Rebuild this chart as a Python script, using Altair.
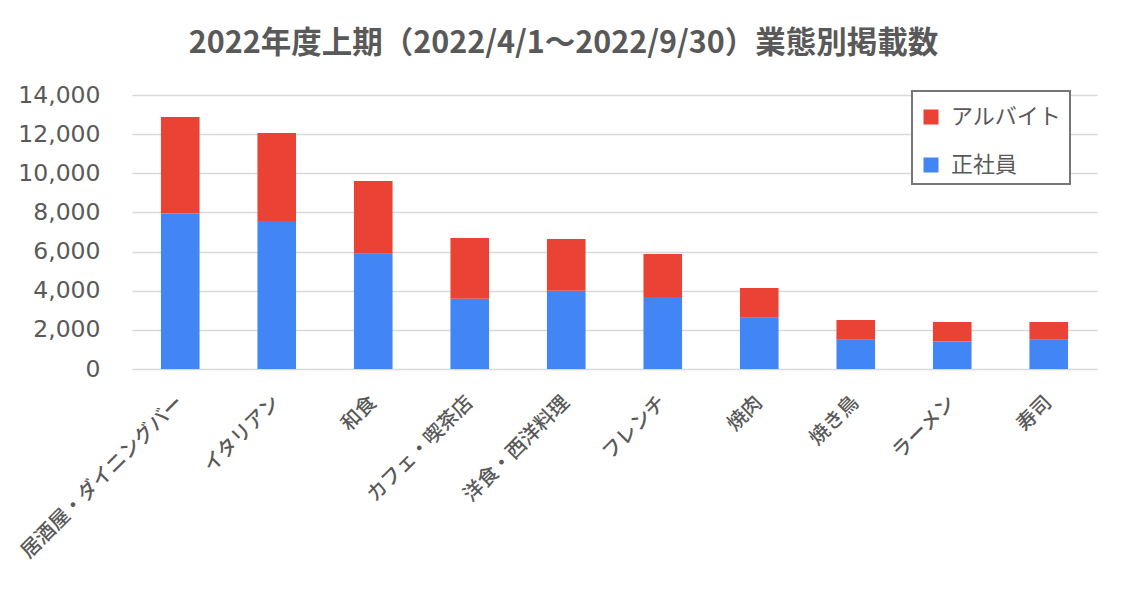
import altair as alt
import pandas as pd

categories = ["居酒屋・ダイニングバー", "イタリアン", "和食", "カフェ・喫茶店", "洋食・西洋料理",
              "フレンチ", "焼肉", "焼き鳥", "ラーメン", "寿司"]
seishain = [7950, 7560, 5890, 3590, 4000, 3680, 2620, 1500, 1400, 1500]
arubaito = [4930, 4500, 3710, 3100, 2640, 2200, 1520, 1000, 1000, 900]
series = ["アルバイト", "正社員"]
colors = ["#EA4335", "#4285F4"]
y_ticks = [0, 2000, 4000, 6000, 8000, 10000, 12000, 14000]
title = "2022年度上期（2022/4/1～2022/9/30）業態別掲載数"

rows = []
for c, s, a in zip(categories, seishain, arubaito):
    rows.append({"業態": c, "区分": "正社員", "件数": s, "順": 0})
    rows.append({"業態": c, "区分": "アルバイト", "件数": a, "順": 1})
df = pd.DataFrame(rows)

JP = "Noto Sans CJK JP"
GRAY = "#595959"

chart = alt.Chart(df).mark_bar().encode(
    x=alt.X("業態:N", sort=categories,
            scale=alt.Scale(paddingInner=0.6, paddingOuter=0.3),
            axis=alt.Axis(title=None, labelAngle=-45, labelFont=JP, labelFontSize=20,
                          labelFontWeight=500, labelColor=GRAY, labelPadding=30, ticks=False,
                          domain=False, labelAlign="right", labelBaseline="middle",
                          labelLimit=400)),
    y=alt.Y("件数:Q", stack="zero",
            scale=alt.Scale(domain=[0, 14000], nice=False),
            axis=alt.Axis(title=None, values=y_ticks, format=",d", labelFont="DejaVu Sans",
                          labelFontSize=23.5, labelColor=GRAY, labelPadding=32, ticks=False,
                          domain=False, gridColor="#d9d9d9", gridWidth=1.6)),
    color=alt.Color("区分:N", scale=alt.Scale(domain=series, range=colors),
                    legend=alt.Legend(title=" ", titleFontSize=1, titlePadding=6,
                                      orient="none", legendX=780, legendY=-4,
                                      symbolType="square", symbolSize=225, symbolStrokeWidth=0,
                                      labelFont=JP, labelFontSize=22, labelColor=GRAY,
                                      labelOffset=9, rowPadding=26, padding=8,
                                      strokeColor="#767676", fillColor="white")),
    order=alt.Order("順:Q", sort="ascending"),
).properties(
    width=965, height=274,
    padding={"left": 124, "top": 87, "right": 19, "bottom": 217},
    autosize=alt.AutoSizeParams(type="none"),
    background="white",
    title=alt.TitleParams(title, font=JP, fontSize=30.5, fontWeight="bold", color=GRAY,
                          anchor="middle", dx=-51, dy=38, offset=38, baseline="alphabetic"),
).configure_view(strokeWidth=0, stroke=None).configure_legend(strokeWidth=2)

chart.save("out.html", embed_options={"renderer": "svg", "actions": False})
